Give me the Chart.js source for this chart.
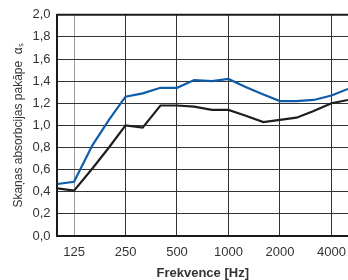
<!DOCTYPE html>
<html>
<head>
<meta charset="utf-8">
<script src="https://cdn.jsdelivr.net/npm/chart.js@4/dist/chart.umd.min.js"></script>
<style>
  html, body { margin: 0; padding: 0; background: #fff; }
  #wrap { width: 348px; height: 280px; }
</style>
</head>
<body>
<div id="wrap"><canvas id="chart1" width="348" height="280"></canvas></div>
<script>
// 1/3 octave frequencies, Hz
var freqs = [100, 125, 160, 200, 250, 315, 400, 500, 630, 800, 1000, 1250, 1600, 2000, 2500, 3150, 4000, 5000];
var blueVals = [0.47, 0.49, 0.82, 1.05, 1.26, 1.29, 1.34, 1.34, 1.41, 1.40, 1.42, 1.35, 1.28, 1.22, 1.22, 1.23, 1.27, 1.33];
var blackVals = [0.43, 0.41, 0.61, 0.80, 1.00, 0.98, 1.18, 1.18, 1.17, 1.14, 1.14, 1.09, 1.03, 1.05, 1.07, 1.13, 1.20, 1.23];
var xTicks = [125, 250, 500, 1000, 2000, 4000];

var font = '"Liberation Sans", Arial, sans-serif';

function pairs(vals) {
	return freqs.map(function(f, i) { return { x: f, y: vals[i] }; });
}

// top frame line (plot is open on the right like the source)
var frameTop = {
	id: 'frameTop',
	afterDatasetsDraw: function(chart) {
		var a = chart.chartArea, c = chart.ctx;
		c.save();
		c.strokeStyle = '#1a1a1a';
		c.lineWidth = 2;
		c.beginPath();
		c.moveTo(a.left - 1, a.top);
		c.lineTo(a.right, a.top);
		c.stroke();
		c.restore();
	}
};

new Chart(document.getElementById("chart1"), {
	type: 'line',
	data: {
		datasets: [
			{ data: pairs(blueVals), borderColor: '#0f5ca8', borderWidth: 2.2, pointRadius: 0, fill: false, tension: 0 },
			{ data: pairs(blackVals), borderColor: '#1e1e1e', borderWidth: 2.2, pointRadius: 0, fill: false, tension: 0 }
		]
	},
	plugins: [frameTop],
	options: {
		responsive: false,
		animation: false,
		layout: { padding: { top: 12, right: 0, left: 11, bottom: 0 } },
		plugins: { legend: { display: false }, tooltip: { enabled: false } },
		scales: {
			x: {
				type: 'logarithmic',
				min: 100,
				max: 5000,
				afterBuildTicks: function(axis) {
					axis.ticks = xTicks.map(function(v) { return { value: v }; });
				},
				// plot runs right up to the canvas edge
				afterFit: function(axis) {
					axis.paddingRight = 0;
					axis.paddingLeft = 0;
				},
				ticks: {
					autoSkip: false,
					maxRotation: 0,
					padding: 10,
					color: '#333',
					font: { family: font, size: 13, lineHeight: 1 },
					callback: function(v) { return String(v); }
				},
				grid: {
					drawTicks: false,
					color: function(ctx) { return ctx.tick && ctx.tick.value === 125 ? '#999' : '#333'; },
					lineWidth: 1
				},
				border: { color: '#1a1a1a', width: 2 },
				title: {
					display: true,
					text: 'Frekvence [Hz]',
					color: '#333',
					font: { family: font, size: 13, weight: 'bold', lineHeight: 1 },
					padding: { top: -2, bottom: 0 }
				}
			},
			y: {
				min: 0,
				max: 2,
				ticks: {
					stepSize: 0.2,
					padding: 7,
					color: '#333',
					font: { family: font, size: 13 },
					callback: function(v) { return v.toFixed(1).replace('.', ','); }
				},
				grid: { drawTicks: false, color: '#333', lineWidth: 1 },
				border: { color: '#1a1a1a', width: 2 },
				title: {
					display: true,
					text: 'Skaņas absorbcijas pakāpe  αₛ',
					color: '#333',
					font: { family: font, size: 12 },
					padding: { top: 0, bottom: 0 }
				}
			}
		}
	}
});
</script>
</body>
</html>
